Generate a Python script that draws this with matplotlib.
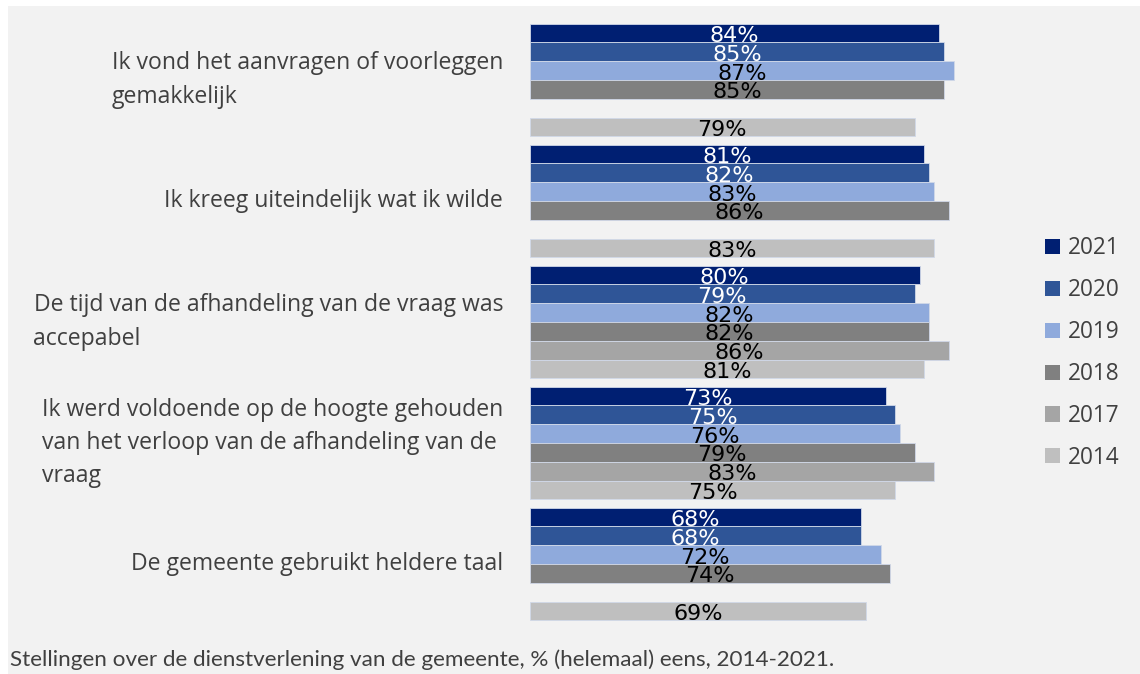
import matplotlib.pyplot as plt
import matplotlib.patches as mpatches
import numpy as np

# Stellingen, survey years and % (helemaal) eens per year (None = not asked)
statements = [
    "Ik vond het aanvragen of voorleggen\ngemakkelijk",
    "Ik kreeg uiteindelijk wat ik wilde",
    "De tijd van de afhandeling van de vraag was\naccepabel",
    "Ik werd voldoende op de hoogte gehouden\nvan het verloop van de afhandeling van de\nvraag",
    "De gemeente gebruikt heldere taal",
]
years = ["2021", "2020", "2019", "2018", "2017", "2014"]
v2021 = [84, 81, 80, 73, 68]
v2020 = [85, 82, 79, 75, 68]
v2019 = [87, 83, 82, 76, 72]
v2018 = [85, 86, 82, 79, 74]
v2017 = [None, None, 86, 83, None]
v2014 = [79, 83, 81, 75, 69]

series = [v2021, v2020, v2019, v2018, v2017, v2014]
colors = ["#001f72", "#2f5597", "#8faadc", "#808080", "#a5a5a5", "#bfbfbf"]
text_colors = ["white", "white", "black", "black", "black", "black"]

W, H = 1140, 674
fig = plt.figure(figsize=(W / 100, H / 100), dpi=100, facecolor="white")
# grey panel behind everything
fig.patches.append(mpatches.Rectangle((8 / W, 0), 1, 1 - 6 / H, transform=fig.transFigure,
                                      facecolor="#f2f2f2", edgecolor="none", zorder=-5))

ax = fig.add_axes([530 / W, 1 - 624.5 / H, 487 / W, 605 / H])
ax.set_facecolor("none")

n = len(years)
bar_h = 0.155
y_base = np.arange(len(statements))

for i, (vals, col, tcol) in enumerate(zip(series, colors, text_colors)):
    for j, v in enumerate(vals):
        if v is None:
            continue
        y = y_base[j] - (n - 1) / 2 * bar_h + i * bar_h
        ax.barh(y, v, height=bar_h, color=col, edgecolor="#d0d8e8", linewidth=0.6)
        ax.text(v / 2, y + 0.025, f"{v}%", ha="center", va="center",
                fontsize=16, color=tcol, family="DejaVu Sans")

ax.set_xlim(0, 100)
ax.set_ylim(len(statements) - 0.5, -0.5)
ax.set_xticks([])
ax.set_yticks([])
for s in ax.spines.values():
    s.set_visible(False)

for j, lab in enumerate(statements):
    ax.text(-27 / 4.87, y_base[j], lab, ha="right", va="center", multialignment="left",
            fontsize=16.6, color="#404040", family="Open Sans", linespacing=1.52)

handles = [mpatches.Patch(facecolor=c, edgecolor="none") for c in colors]
fig.legend(handles, years, loc="upper left", bbox_to_anchor=(1025 / W, 1 - 216 / H),
           frameon=False, labelcolor="#404040", prop={"family": "Open Sans", "size": 16.3},
           handlelength=0.65, handleheight=0.65, handletextpad=0.35, labelspacing=0.79)

fig.text(10 / W, 1 - 660 / H, "Stellingen over de dienstverlening van de gemeente, % (helemaal) eens, 2014-2021.",
         ha="left", va="center", fontsize=16.2, color="#404040", family="Lato")

fig.savefig("out.png", dpi=100, facecolor="white")
